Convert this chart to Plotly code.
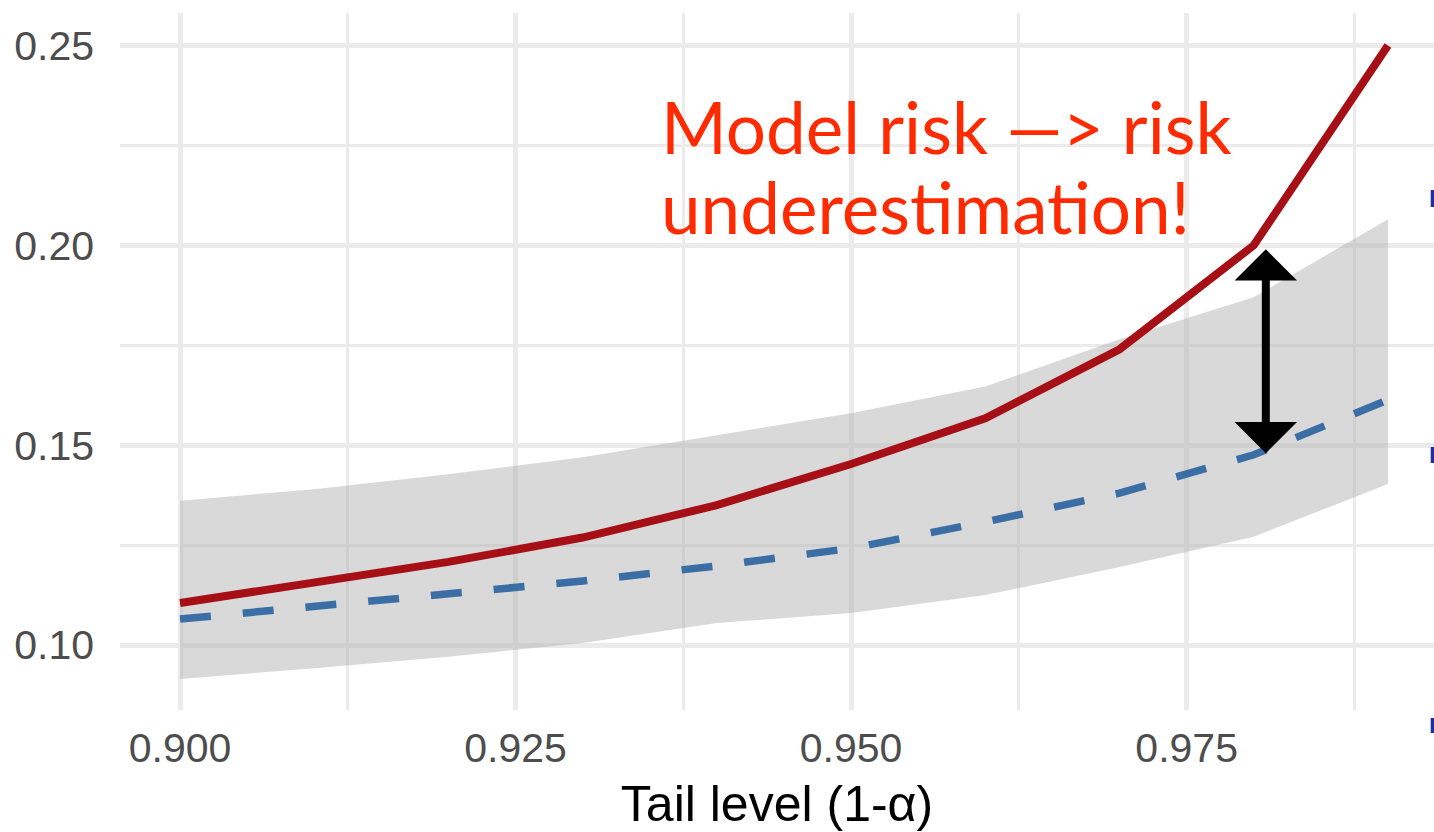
import plotly.graph_objects as go

# Tail levels (1 - alpha)
tail_level = [0.90, 0.91, 0.92, 0.93, 0.94, 0.95, 0.96, 0.97, 0.98, 0.99]

# True tail risk measure
true_risk = [0.1105, 0.1156, 0.1208, 0.1269, 0.1350, 0.1453, 0.1567, 0.1740, 0.2000, 0.2500]

# Model estimate and its confidence band
model_risk = [0.1065, 0.1096, 0.1128, 0.1160, 0.1198, 0.1242, 0.1308, 0.1380, 0.1476, 0.1613]
band_upper = [0.1361, 0.1390, 0.1427, 0.1470, 0.1525, 0.1580, 0.1647, 0.1765, 0.1870, 0.2065]
band_lower = [0.0915, 0.0942, 0.0971, 0.1005, 0.1055, 0.1080, 0.1125, 0.1195, 0.1271, 0.1403]

x_ticks = [0.900, 0.925, 0.950, 0.975]
x_ticklabels = ["0.900", "0.925", "0.950", "0.975"]
y_ticks = [0.10, 0.15, 0.20, 0.25]
y_ticklabels = ["0.10", "0.15", "0.20", "0.25"]

# Callout text, one entry per line
callout_lines = ["Model risk —> risk", "underestimation!"]

# Where the gap between the two curves is highlighted
gap_level = 0.9809
gap_top = 0.1990
gap_bottom = 0.1476

RED = "#A50F15"
BLUE = "#3A6EA5"
GRID = "#EBEBEB"

fig = go.Figure()

fig.add_trace(go.Scatter(
    x=tail_level, y=band_lower, mode="lines",
    line=dict(width=0), hoverinfo="skip", showlegend=False,
))
fig.add_trace(go.Scatter(
    x=tail_level, y=band_upper, mode="lines",
    line=dict(width=0), fill="tonexty", fillcolor="rgba(179,179,179,0.5)",
    hoverinfo="skip", showlegend=False,
))
fig.add_trace(go.Scatter(
    x=tail_level, y=true_risk, mode="lines", name="True",
    line=dict(color=RED, width=8), showlegend=False,
))
fig.add_trace(go.Scatter(
    x=tail_level, y=model_risk, mode="lines", name="Model",
    line=dict(color=BLUE, width=7.5, dash="31px,32px"), showlegend=False,
))

# Double-headed arrow marking the underestimation gap
fig.add_annotation(
    x=gap_level, y=gap_top, ax=gap_level, ay=gap_bottom,
    xref="x", yref="y", axref="x", ayref="y",
    text="", showarrow=True, arrowside="end+start",
    arrowhead=1, startarrowhead=1, arrowsize=1.3, startarrowsize=1.3,
    arrowwidth=8, arrowcolor="black", standoff=0, startstandoff=0,
)

# Callout, drawn line by line for tighter leading
for i, line_text in enumerate(callout_lines):
    fig.add_annotation(
        x=0.9357, y=0.2408 - 0.0200 * i, xref="x", yref="y",
        xanchor="left", yanchor="top", align="left",
        text=line_text, showarrow=False,
        font=dict(family="Comic Sans MS, Lato, sans-serif", size=71, color="#FF2A00"),
    )

# Small dark-blue key marks at the right edge
for y0, y1 in [(0.7217, 0.746), (0.3544, 0.3773), (-0.033, -0.0115)]:
    fig.add_shape(type="rect", xref="paper", yref="paper",
                  x0=0.9975, x1=1.0, y0=y0, y1=y1,
                  fillcolor="#1F2F9F", line=dict(width=0))

fig.update_layout(
    width=1434, height=832,
    margin=dict(l=120, r=0, t=13, b=122),
    paper_bgcolor="white", plot_bgcolor="white",
    font=dict(family="Liberation Sans, Arial, sans-serif"),
)

fig.update_xaxes(
    range=[0.89553, 0.99343],
    tickmode="array", tickvals=x_ticks, ticktext=x_ticklabels,
    tickfont=dict(size=41, color="#4D4D4D"),
    ticklabelstandoff=10,
    showgrid=True, gridcolor=GRID, gridwidth=4.5,
    minor=dict(tickmode="array", tickvals=[0.9125, 0.9375, 0.9625, 0.9875],
               showgrid=True, gridcolor=GRID, gridwidth=3),
    zeroline=False, showline=False, ticks="",
    title=dict(text="Tail level (1-α)", font=dict(size=50, color="black"), standoff=20),
)

fig.update_yaxes(
    range=[0.08375, 0.25812],
    tickmode="array", tickvals=y_ticks, ticktext=y_ticklabels,
    tickfont=dict(size=41, color="#4D4D4D"),
    ticklabelstandoff=25,
    showgrid=True, gridcolor=GRID, gridwidth=4.5,
    minor=dict(tickmode="array", tickvals=[0.125, 0.175, 0.225],
               showgrid=True, gridcolor=GRID, gridwidth=3),
    zeroline=False, showline=False, ticks="",
)

fig.write_html("out.html")
